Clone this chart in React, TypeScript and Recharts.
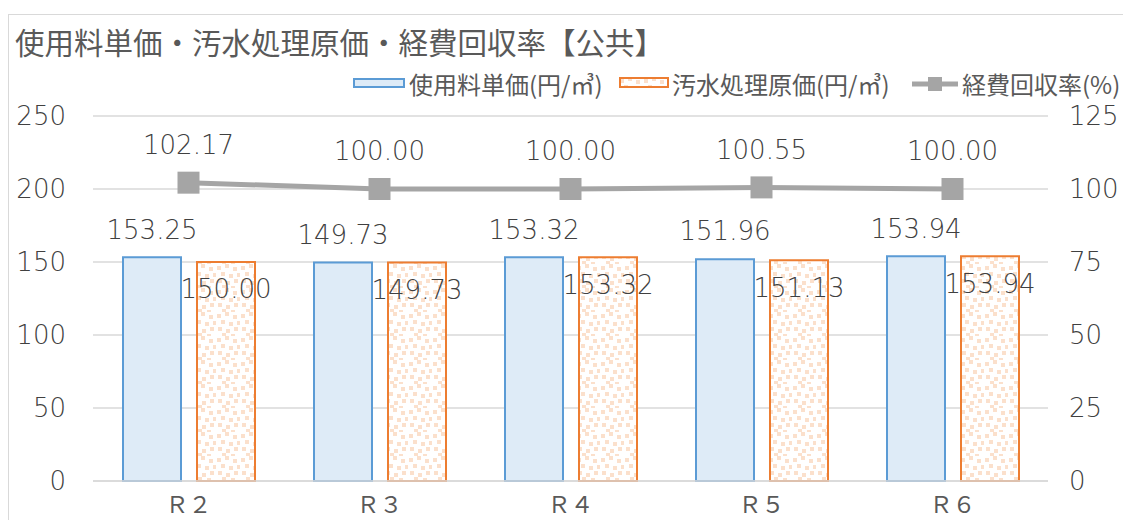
import React from 'react';
import { ComposedChart, Bar, Line, XAxis, YAxis, CartesianGrid } from 'recharts';

const title = '使用料単価・汚水処理原価・経費回収率【公共】';
const categories = ['Ｒ２', 'Ｒ３', 'Ｒ４', 'Ｒ５', 'Ｒ６'];
const usageFee = [153.25, 149.73, 153.32, 151.96, 153.94];
const treatmentCost = [150.0, 149.73, 153.32, 151.13, 153.94];
const recoveryRate = [102.17, 100.0, 100.0, 100.55, 100.0];
const leftTicks = [0, 50, 100, 150, 200, 250];
const rightTicks = [0, 25, 50, 75, 100, 125];
const seriesNames = ['使用料単価(円/㎥)', '汚水処理原価(円/㎥)', '経費回収率(%)'];

const data = categories.map((c, i) => ({
  name: c,
  usage: usageFee[i],
  cost: treatmentCost[i],
  rate: recoveryRate[i],
}));

const NUM = '"DejaVu Sans", "Noto Sans CJK JP", sans-serif';
const CJK = '"Noto Sans CJK JP", "DejaVu Sans", sans-serif';
const NW = 200;
const TXT = '#595959';
const NUM_TXT = '#404040';
const BLUE = '#5b9bd5';
const BLUE_FILL = '#deebf7';
const ORANGE = '#ed7d31';
const DOT = '#fbe0cc';
const GRAY = '#a5a5a5';
const GRID = '#d9d9d9';

const fmt = (v: any) => Number(v).toFixed(2);

const blueLabel = (p: any) => (
  <text x={p.x + p.width / 2} y={p.y - 28} dy="0.36em" textAnchor="middle" fontFamily={NUM} fontWeight={NW} fontSize={26} fill={NUM_TXT}>
    {fmt(p.value)}
  </text>
);
const orangeLabel = (p: any) => (
  <text x={p.x + p.width / 2} y={p.y + 27} dy="0.36em" textAnchor="middle" fontFamily={NUM} fontWeight={NW} fontSize={26} fill={NUM_TXT}>
    {fmt(p.value)}
  </text>
);
const lineLabel = (p: any) => (
  <text x={p.x} y={p.y - 38} dy="0.36em" textAnchor="middle" fontFamily={NUM} fontWeight={NW} fontSize={26} fill={NUM_TXT}>
    {fmt(p.value)}
  </text>
);
const squareDot = (p: any) => (
  <rect key={'d' + p.index} x={p.cx - 11} y={p.cy - 11} width={22} height={22} fill={GRAY} />
);

const LeftTick = (p: any) => (
  <text x={p.x} y={p.y} dy="0.36em" textAnchor="end" fontFamily={NUM} fontWeight={NW} fontSize={26} fill={NUM_TXT}>
    {p.payload.value}
  </text>
);
const RightTick = (p: any) => (
  <text x={p.x} y={p.y} dy="0.36em" textAnchor="start" fontFamily={NUM} fontWeight={NW} fontSize={26} fill={NUM_TXT}>
    {p.payload.value}
  </text>
);
const BottomTick = (p: any) => (
  <text x={p.x} y={p.y + 30} textAnchor="middle" fontFamily={CJK} fontSize={23} fill={TXT}>
    {p.payload.value}
  </text>
);

const dotSquares = [
  [1, 2], [9, 0], [17, 3], [5, 8], [13, 10], [21, 9], [2, 15], [10, 17], [18, 15], [6, 21], [15, 22],
];

const Pattern = ({ id }: { id: string }) => (
  <pattern id={id} width={24} height={24} patternUnits="userSpaceOnUse">
    <rect width={24} height={24} fill="#ffffff" />
    {dotSquares.map(([x, y], i) => (
      <rect key={i} x={x} y={y} width={4} height={4} fill={DOT} />
    ))}
  </pattern>
);

export default function App() {
  return (
    <div style={{ position: 'fixed', left: 0, top: 0, width: 1123, height: 520, overflow: 'hidden', background: '#fff' }}>
      <div style={{ position: 'absolute', left: 8, top: 14, width: 1200, height: 600, borderLeft: `1.5px solid ${GRID}`, borderTop: `1.5px solid ${GRID}` }} />
      <div style={{ position: 'absolute', left: 15, top: 22, fontFamily: CJK, fontSize: 29.5, lineHeight: '38px', color: TXT, whiteSpace: 'nowrap' }}>
        {title}
      </div>
      {/* legend */}
      <div style={{ position: 'absolute', left: 0, top: 70, width: 1123, height: 30, fontFamily: CJK, fontSize: 24, lineHeight: '28px', color: TXT }}>
        <div style={{ position: 'absolute', left: 353, top: 8, width: 48, height: 6, background: BLUE_FILL, border: `2px solid ${BLUE}` }} />
        <div style={{ position: 'absolute', left: 409, top: 0, whiteSpace: 'nowrap' }}>{seriesNames[0]}</div>
        <svg style={{ position: 'absolute', left: 619, top: 7 }} width={52} height={12}>
          <defs><Pattern id="legPat" /></defs>
          <rect x={1} y={1} width={48} height={9} fill="url(#legPat)" stroke={ORANGE} strokeWidth={2} />
        </svg>
        <div style={{ position: 'absolute', left: 672, top: 0, whiteSpace: 'nowrap' }}>{seriesNames[1]}</div>
        <svg style={{ position: 'absolute', left: 912, top: 4 }} width={48} height={20}>
          <line x1={0} y1={10} x2={46} y2={10} stroke={GRAY} strokeWidth={5} />
          <rect x={16} y={3} width={14} height={14} fill={GRAY} />
        </svg>
        <div style={{ position: 'absolute', left: 962, top: 0, whiteSpace: 'nowrap' }}>{seriesNames[2]}</div>
      </div>
      <div style={{ position: 'absolute', left: 0, top: 0 }}>
        <ComposedChart
          width={1123}
          height={520}
          data={data}
          margin={{ top: 116, right: 0, bottom: 0, left: 13 }}
          barGap={16}
          barSize={58}
          style={{ background: 'transparent' }}
        >
          <defs>
            <Pattern id="barPat" />
          </defs>
          <CartesianGrid vertical={false} stroke={GRID} strokeWidth={1.5} yAxisId="left" />
          <XAxis
            dataKey="name"
            height={39}
            axisLine={{ stroke: GRID, strokeWidth: 1.5 }}
            tickLine={false}
            tickSize={0}
            tick={<BottomTick />}
            interval={0}
          />
          <YAxis
            yAxisId="left"
            orientation="left"
            width={80}
            domain={[0, 250]}
            ticks={leftTicks}
            axisLine={false}
            tickLine={false}
            tickSize={0}
            tickMargin={27}
            tick={<LeftTick />}
          />
          <YAxis
            yAxisId="right"
            orientation="right"
            width={75}
            domain={[0, 125]}
            ticks={rightTicks}
            axisLine={false}
            tickLine={false}
            tickSize={0}
            tickMargin={21}
            tick={<RightTick />}
          />
          <Bar yAxisId="left" dataKey="usage" name={seriesNames[0]} fill={BLUE_FILL} stroke={BLUE} strokeWidth={2} isAnimationActive={false} label={blueLabel} />
          <Bar yAxisId="left" dataKey="cost" name={seriesNames[1]} fill="url(#barPat)" stroke={ORANGE} strokeWidth={2} isAnimationActive={false} label={orangeLabel} />
          <Line yAxisId="right" dataKey="rate" name={seriesNames[2]} stroke={GRAY} strokeWidth={5} dot={squareDot} activeDot={false} isAnimationActive={false} label={lineLabel} />
        </ComposedChart>
      </div>
    </div>
  );
}
